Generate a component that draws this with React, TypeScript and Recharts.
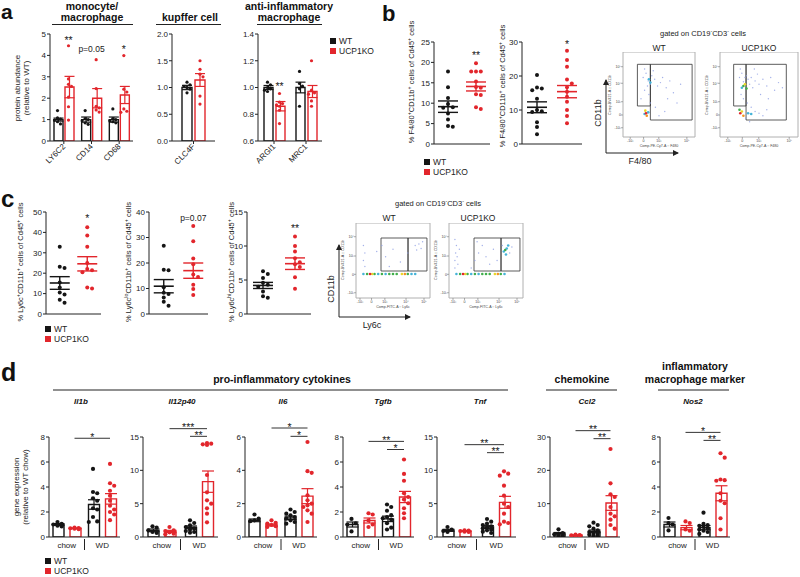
import React from 'react';
import { ComposedChart, Bar, ErrorBar, Scatter, XAxis, YAxis, ReferenceLine, ReferenceDot, ReferenceArea } from 'recharts';

const RED = '#e2262c';
const BLK = '#151515';
const AX = '#222';
const FONT = '"Liberation Sans", Arial, Helvetica, sans-serif';

// ---------- panel a ----------
const monoCats = ['LY6C2', 'CD14', 'CD68'];
const monoWtMean = [1.0, 1.0, 1.0];
const monoWtSem = [0.07, 0.12, 0.12];
const monoKoMean = [2.52, 2.0, 2.15];
const monoKoSem = [0.5, 0.45, 0.4];
const monoWtPts = [[1.42, 1.08, 1.02, 0.98, 0.9, 0.8], [1.42, 1.05, 1.0, 0.95, 0.85, 0.78], [1.5, 1.05, 1.0, 0.95, 0.9, 0.85]];
const monoKoPts = [[4.45, 2.9, 2.65, 2.55, 2.05, 1.6, 0.98], [3.8, 2.45, 1.62, 1.55, 1.45, 1.35], [3.99, 2.42, 2.29, 1.5, 1.39, 1.34]];
const monoTicks = [0, 1, 2, 3, 4, 5];

const kupCats = ['CLC4F'];
const kupWtMean = [1.0];
const kupWtSem = [0.04];
const kupKoMean = [1.14];
const kupKoSem = [0.12];
const kupWtPts = [[1.1, 1.05, 1.02, 1.0, 0.97, 0.9]];
const kupKoPts = [[1.5, 1.34, 1.25, 1.2, 0.84, 0.69]];
const kupTicks = [0, 0.5, 1.0, 1.5, 2.0];

const antiCats = ['ARGI1', 'MRC1'];
const antiWtMean = [1.0, 1.0];
const antiWtSem = [0.015, 0.04];
const antiKoMean = [0.86, 0.97];
const antiKoSem = [0.035, 0.045];
const antiWtPts = [[1.04, 1.02, 1.0, 0.99, 0.98, 0.97], [1.12, 1.03, 1.01, 0.99, 0.86]];
const antiKoPts = [[0.955, 0.89, 0.88, 0.87, 0.86, 0.83, 0.73], [1.2, 0.98, 0.96, 0.95, 0.9, 0.86]];
const antiTicks = [0.6, 0.8, 1.0, 1.2, 1.4];

// ---------- panel b ----------
const b1WtPts = [17.8, 13.9, 11.3, 9.8, 9.0, 8.9, 7.5, 6.0, 4.4, 4.2];
const b1KoPts = [19.8, 17.8, 17.8, 17.8, 15.3, 14.0, 13.8, 12.2, 12.0, 9.0, 8.6];
const b1Mean = [9.15, 14.1];
const b1Sem = [1.4, 1.1];
const b1Ticks = [0, 5, 10, 15, 20, 25];
const b2WtPts = [20.3, 16.6, 16.3, 15.8, 13.3, 10.0, 9.6, 9.4, 6.4, 5.0, 2.9];
const b2KoPts = [27.4, 24.7, 22.7, 19.0, 17.8, 16.7, 15.4, 13.9, 12.4, 10.0, 8.2, 6.1];
const b2Mean = [10.8, 15.4];
const b2Sem = [1.6, 1.8];
const b2Ticks = [0, 10, 20, 30];

// ---------- panel c ----------
const c1WtPts = [33, 23.2, 22.5, 15.5, 13, 10.5, 9.5, 7.0, 5.5];
const c1KoPts = [42.5, 38.5, 33.0, 25.0, 22.0, 21.5, 20.5, 13.0, 12.5];
const c1Mean = [15.2, 24.6];
const c1Sem = [3.1, 3.5];
const c1Ticks = [0, 10, 20, 30, 40, 50];
const c2WtPts = [26.8, 17.4, 17.2, 10.5, 8.3, 7.8, 6.5, 4.8, 3.2];
const c2KoPts = [34.5, 28.5, 21.8, 19.5, 15.5, 14.5, 11.5, 9.8, 7.5];
const c2Mean = [10.9, 17.0];
const c2Sem = [2.6, 3.0];
const c2Ticks = [0, 10, 20, 30, 40];
const c3WtPts = [6.3, 5.9, 5.3, 4.6, 4.3, 4.0, 3.3, 2.6, 2.4];
const c3KoPts = [11.4, 10.0, 9.2, 8.2, 7.6, 7.3, 6.9, 5.4, 3.7];
const c3Mean = [4.2, 7.4];
const c3Sem = [0.45, 0.85];
const c3Ticks = [0, 5, 10, 15];

// ---------- panel d ----------
const dCats = ['chow', 'WD'];
const il1bWtMean = [1.0, 2.6]; const il1bWtSem = [0.07, 0.38];
const il1bKoMean = [0.69, 3.05]; const il1bKoSem = [0.03, 0.42];
const il1bWtPts = [[1.2, 1.05, 1.0, 0.9, 0.85], [5.45, 3.6, 3.5, 3.1, 2.9, 2.3, 2.2, 1.6, 1.25, 1.2]];
const il1bKoPts = [[0.75, 0.72, 0.7, 0.66, 0.62], [5.85, 4.3, 4.1, 3.7, 3.3, 2.9, 2.5, 2.2, 2.0, 1.8, 1.35]];
const il1bTicks = [0, 2, 4, 6, 8];

const il12WtMean = [1.0, 1.45]; const il12WtSem = [0.2, 0.2];
const il12KoMean = [0.83, 8.3]; const il12KoSem = [0.17, 1.6];
const il12WtPts = [[1.6, 1.4, 1.0, 0.75, 0.6], [2.5, 2.1, 1.75, 1.5, 1.25, 1.1, 0.9, 0.75, 0.65]];
const il12KoPts = [[1.5, 1.0, 0.9, 0.7, 0.5, 0.4], [14.1, 14.0, 13.9, 13.8, 9.3, 6.7, 5.5, 5.0, 4.3, 3.5, 2.2]];
const il12Ticks = [0, 5, 10, 15];

const il6WtMean = [1.0, 1.15]; const il6WtSem = [0.08, 0.1];
const il6KoMean = [0.72, 2.45]; const il6KoSem = [0.06, 0.45];
const il6WtPts = [[1.35, 1.1, 1.0, 0.95], [1.65, 1.5, 1.4, 1.3, 1.2, 1.1, 1.0, 0.9, 0.8]];
const il6KoPts = [[1.0, 0.85, 0.8, 0.72, 0.65, 0.6], [5.7, 3.95, 3.85, 2.5, 2.2, 2.0, 1.9, 1.8, 1.6, 1.4, 0.9]];
const il6Ticks = [0, 2, 4, 6];

const tgfbWtMean = [1.0, 1.45]; const tgfbWtSem = [0.2, 0.22];
const tgfbKoMean = [1.32, 3.2]; const tgfbKoSem = [0.2, 0.45];
const tgfbWtPts = [[1.45, 1.1, 1.0, 0.45], [2.6, 2.4, 2.1, 1.75, 1.6, 1.5, 1.4, 1.1, 0.75, 0.6]];
const tgfbKoPts = [[1.9, 1.8, 1.33, 1.0, 0.8], [6.2, 5.05, 4.5, 3.5, 3.2, 3.0, 2.7, 2.3, 1.9, 1.5]];
const tgfbTicks = [0, 2, 4, 6, 8];

const tnfWtMean = [1.0, 1.5]; const tnfWtSem = [0.15, 0.2];
const tnfKoMean = [0.87, 5.2]; const tnfKoSem = [0.05, 0.9];
const tnfWtPts = [[1.5, 1.1, 0.9, 0.75], [2.7, 2.3, 2.0, 1.8, 1.6, 1.4, 1.3, 1.1, 1.0, 0.8, 0.6]];
const tnfKoPts = [[1.0, 0.95, 0.9, 0.8, 0.75], [9.85, 9.5, 9.2, 7.7, 6.2, 5.0, 4.5, 3.5, 2.3, 2.1, 1.9]];
const tnfTicks = [0, 5, 10, 15];

const ccl2WtMean = [1.0, 1.7]; const ccl2WtSem = [0.35, 0.4];
const ccl2KoMean = [0.53, 10.2]; const ccl2KoSem = [0.05, 2.2];
const ccl2WtPts = [[2.3, 1.2, 0.8, 0.5, 0.3], [4.3, 3.6, 3.2, 2.5, 2.0, 1.5, 1.2, 1.0, 0.7, 0.5, 0.3]];
const ccl2KoPts = [[0.7, 0.6, 0.5, 0.45, 0.4], [26.4, 16.1, 12.8, 12.0, 9.0, 7.0, 6.2, 5.2, 3.6, 2.5]];
const ccl2Ticks = [0, 10, 20, 30];

const nos2WtMean = [1.0, 0.75]; const nos2WtSem = [0.2, 0.17];
const nos2KoMean = [0.75, 3.5]; const nos2KoSem = [0.17, 0.6];
const nos2WtPts = [[1.52, 1.12, 1.0, 0.53], [1.95, 1.05, 0.95, 0.9, 0.8, 0.7, 0.6, 0.5, 0.4, 0.25]];
const nos2KoPts = [[1.25, 1.12, 0.6, 0.5], [6.7, 6.35, 4.6, 4.55, 4.5, 3.5, 2.9, 2.7, 1.5, 0.6]];
const nos2Ticks = [0, 2, 4, 6, 8];

// ---------- flow cytometry (display units 0..100) ----------
const flowCol: Record<string, string> = { b: '#8d9de3', c: '#45b3d8', g: '#3fae4a', y: '#e9d628', o: '#f39320', r: '#e2262c' };
const fbXTicks = [10, 28.6, 49.7, 88.7];
const fbXLabels = ['-10³', '0', '10³', '10⁵'];
const fbYTicks = [10.9, 25.9, 41.5, 63.2, 82.7];
const fbYLabels = ['-10³', '0', '10³', '10⁴', '10⁵'];
const fbWtGates = [[20, 38, 36.5, 85.5], [38, 96, 20, 85.5]];
const fbKoGates = [[17.5, 33.4, 36.5, 85.5], [33.4, 85, 20, 85.5]];
const fbWtPts: [number, number, string][] = [
  [28, 70, 'b'], [32, 75, 'b'], [35, 66, 'b'], [38, 62, 'b'], [40, 72, 'b'], [44, 68, 'b'], [48, 60, 'b'], [52, 64, 'b'],
  [30, 55, 'b'], [36, 50, 'b'], [42, 78, 'b'], [55, 70, 'b'], [60, 58, 'b'], [65, 66, 'b'], [70, 52, 'b'], [25, 45, 'b'],
  [38, 40, 'b'], [45, 35, 'b'], [58, 30, 'b'], [75, 40, 'b'], [50, 25, 'b'], [30, 80, 'b'], [34, 60, 'b'], [80, 62, 'b'],
  [62, 45, 'b'], [38, 64, 'c'], [36, 68, 'c'], [30, 27, 'c'], [35, 29, 'c'], [33, 25, 'o'], [31, 31, 'y'], [32, 28, 'r'],
];
const fbKoPts: [number, number, string][] = [
  [25, 70, 'b'], [28, 75, 'b'], [30, 65, 'b'], [32, 70, 'b'], [34, 72, 'b'], [36, 68, 'b'], [38, 62, 'b'], [40, 70, 'b'],
  [42, 58, 'b'], [45, 66, 'b'], [48, 74, 'b'], [50, 62, 'b'], [55, 68, 'b'], [60, 60, 'b'], [65, 70, 'b'], [70, 55, 'b'],
  [75, 64, 'b'], [27, 50, 'b'], [30, 45, 'b'], [35, 40, 'b'], [40, 35, 'b'], [45, 30, 'b'], [50, 28, 'b'], [55, 25, 'b'],
  [60, 32, 'b'], [33, 22, 'b'], [38, 18, 'b'], [26, 80, 'b'], [44, 80, 'b'], [52, 50, 'b'], [62, 45, 'b'], [80, 58, 'b'],
  [28, 58, 'c'], [36, 28, 'c'], [40, 27, 'c'], [34, 57, 'g'], [30, 60, 'g'], [25, 32, 'g'], [32, 62, 'y'], [28, 30, 'y'],
  [30, 25, 'o'], [26, 28, 'r'],
];
const fcXTicks = [5.4, 21, 39, 67.6, 91.9];
const fcXLabels = ['-10³', '0', '10³', '10⁴', '10⁵'];
const fcYTicks = [7, 31.6, 56, 81.7];
const fcYLabels = ['-10³', '0', '10³', '10⁴'];
const fcGates = [[33.8, 70.3, 36, 80], [70.3, 95.9, 36, 80]];
const fcWtPts: [number, number, string][] = [
  [10, 50, 'b'], [12, 60, 'b'], [10, 70, 'b'], [40, 55, 'b'], [50, 65, 'b'], [60, 48, 'b'], [70, 60, 'b'], [80, 70, 'b'],
  [85, 72, 'b'], [88, 66, 'b'], [82, 64, 'b'], [90, 75, 'b'], [12, 42, 'b'], [45, 42, 'b'], [35, 70, 'b'], [28, 62, 'b'],
  [10, 32, 'c'], [15, 32, 'g'], [25, 32, 'g'], [30, 32, 'c'], [35, 32, 'g'], [40, 32, 'c'], [45, 32, 'g'], [50, 32, 'g'],
  [55, 32, 'g'], [70, 32, 'g'], [75, 32, 'c'], [80, 32, 'c'], [22, 32, 'y'], [62, 32, 'y'], [66, 32, 'o'], [19, 32, 'r'],
];
const fcKoPts: [number, number, string][] = [
  [8, 40, 'b'], [8, 50, 'b'], [9, 60, 'b'], [10, 70, 'b'], [8, 78, 'b'], [12, 45, 'b'], [11, 55, 'b'], [14, 65, 'b'],
  [35, 50, 'b'], [40, 60, 'b'], [45, 70, 'b'], [50, 55, 'b'], [55, 45, 'b'], [60, 65, 'b'], [65, 50, 'b'], [30, 40, 'b'],
  [38, 75, 'b'], [82, 60, 'b'], [72, 70, 'b'], [85, 68, 'b'], [78, 66, 'c'], [74, 62, 'c'], [80, 70, 'c'], [77, 58, 'c'],
  [76, 64, 'g'], [10, 32, 'c'], [15, 32, 'g'], [25, 32, 'g'], [30, 32, 'c'], [35, 32, 'g'], [40, 32, 'c'], [45, 32, 'g'],
  [50, 32, 'g'], [55, 32, 'g'], [70, 32, 'g'], [75, 32, 'c'], [22, 32, 'y'], [62, 32, 'y'], [66, 32, 'o'], [19, 32, 'r'],
];

// ---------- helpers ----------
function swarm(vals: number[], yToPx: (v: number) => number, d: number, step: number, maxOff: number): number[] {
  const order = vals.map((_, i) => i).sort((a, b) => vals[b] - vals[a]);
  const placed: { x: number; y: number }[] = [];
  const offs = vals.map(() => 0);
  for (const i of order) {
    const py = yToPx(vals[i]);
    let best = 0;
    let bestScore = -1;
    for (let k = 0; k < 40; k++) {
      const m = Math.ceil(k / 2);
      const cand = k === 0 ? 0 : (k % 2 === 1 ? m : -m) * step;
      if (Math.abs(cand) > maxOff + 0.01) continue;
      const score = placed.length ? Math.min(...placed.map(p => Math.hypot(p.x - cand, p.y - py))) : 1e9;
      if (score >= d) { best = cand; bestScore = score; break; }
      if (score > bestScore) { bestScore = score; best = cand; }
    }
    offs[i] = best;
    placed.push({ x: best, y: py });
  }
  return offs;
}

const dotShape = (fill: string, r: number) => (p: any) => <circle cx={p.cx} cy={p.cy} r={r} fill={fill} />;
const meanShape = (stroke: string, w: number) => (p: any) => (
  <line x1={p.cx - w / 2} x2={p.cx + w / 2} y1={p.cy} y2={p.cy} stroke={stroke} strokeWidth={1.6} />
);
const textLabel = (text: string, fs: number, dy: number) => (p: any) => {
  const vb = p.viewBox || {};
  const cx = (vb.x || 0) + (vb.width || 0) / 2;
  const cy = (vb.y || 0) + (vb.height || 0) / 2;
  return (
    <text x={cx} y={cy + dy} textAnchor="middle" fontSize={fs} stroke="none" style={{ fill: '#1a1a1a' }} fontFamily={FONT}>{text}</text>
  );
};

type Ser = 'wt' | 'ko' | 'mid';
interface Star { cat: number; ser: Ser; y: number; text: string; fs?: number }
interface Sig { a: [number, Ser]; b: [number, Ser]; y: number; text: string }

interface BarPlotProps {
  x: number; y: number; w: number; h: number;
  cats: string[];
  wt: number[]; wtErr: number[]; ko: number[]; koErr: number[];
  wtPts: number[][]; koPts: number[][];
  domain: [number, number]; ticks: number[];
  barSize: number; barGap: number; dotR: number; step: number; cap: number;
  kind: 'rot' | 'split';
  stars?: Star[]; sigs?: Sig[];
  fmt?: (v: number) => string;
}

function BarPlot(p: BarPlotProps) {
  const YW = 30, MT = 24, MR = 4;
  const xh = p.kind === 'rot' ? 40 : 16;
  const n = p.cats.length;
  const band = p.w / n;
  const off = Math.floor((band - (2 * p.barSize + p.barGap)) / 2);
  const cPx: Record<Ser, number> = {
    wt: off + p.barSize / 2,
    ko: off + p.barSize + p.barGap + p.barSize / 2,
    mid: band / 2,
  };
  const xu = (cat: number, ser: Ser, px = 0) => cat + (cPx[ser] + px) / band;
  const yToPx = (v: number) => p.h * (1 - (v - p.domain[0]) / (p.domain[1] - p.domain[0]));
  const build = (ser: Ser, arrs: number[][]) =>
    arrs.flatMap((vals, i) => {
      const offs = swarm(vals, yToPx, p.dotR * 2 + 0.3, p.step, p.barSize / 2);
      return vals.map((v, j) => ({ x: xu(i, ser, offs[j]), y: v }));
    });
  const wtData = build('wt', p.wtPts);
  const koData = build('ko', p.koPts);
  const data = p.cats.map((c, i) => ({ name: c, wt: p.wt[i], wtErr: p.wtErr[i], ko: p.ko[i], koErr: p.koErr[i] }));

  const rotTick = (t: any) => (
    <text x={t.x + 2} y={t.y + 3} transform={`rotate(-45 ${t.x + 2} ${t.y + 3})`} textAnchor="end" fontSize={8} fill="#222">
      {t.payload.value}
    </text>
  );
  const splitTick = (t: any) => (
    <g>
      <text x={t.x} y={t.y + 11} textAnchor="middle" fontSize={8} fill="#222">{t.payload.value}</text>
      {t.index === 0 && <line x1={t.x + band / 2} x2={t.x + band / 2} y1={t.y + 2} y2={t.y + 13} stroke={AX} strokeWidth={1} />}
    </g>
  );

  return (
    <div style={{ position: 'absolute', left: p.x - YW, top: p.y - MT }}>
      <ComposedChart width={YW + p.w + MR} height={MT + p.h + xh} data={data} margin={{ top: MT, right: MR, bottom: 0, left: 0 }} barGap={p.barGap}>
        <XAxis
          xAxisId="cat" dataKey="name" type="category" height={xh} interval={0}
          axisLine={{ stroke: AX, strokeWidth: 1 }}
          tickLine={p.kind === 'rot' ? { stroke: AX, strokeWidth: 1 } : false}
          tickSize={p.kind === 'rot' ? 3 : 0} tickMargin={0}
          tick={p.kind === 'rot' ? rotTick : splitTick}
        />
        <XAxis xAxisId="num" dataKey="x" type="number" domain={[0, n]} hide allowDataOverflow />
        <YAxis
          type="number" domain={p.domain} ticks={p.ticks} width={YW} interval={0} allowDataOverflow
          axisLine={{ stroke: AX, strokeWidth: 1 }} tickLine={{ stroke: AX, strokeWidth: 1 }} tickSize={3} tickMargin={1}
          tick={{ fontSize: 8, fill: '#222' }} tickFormatter={p.fmt}
        />
        <Bar xAxisId="cat" dataKey="wt" barSize={p.barSize} fill="#fff" stroke={BLK} strokeWidth={1.4} isAnimationActive={false}>
          <ErrorBar dataKey="wtErr" width={p.cap} stroke={BLK} strokeWidth={1.2} />
        </Bar>
        <Bar xAxisId="cat" dataKey="ko" barSize={p.barSize} fill="#fff" stroke={RED} strokeWidth={1.4} isAnimationActive={false}>
          <ErrorBar dataKey="koErr" width={p.cap} stroke={RED} strokeWidth={1.2} />
        </Bar>
        <Scatter xAxisId="num" data={wtData} dataKey="y" shape={dotShape(BLK, p.dotR)} isAnimationActive={false} />
        <Scatter xAxisId="num" data={koData} dataKey="y" shape={dotShape(RED, p.dotR)} isAnimationActive={false} />
        {(p.sigs || []).map((s, i) => (
          <ReferenceLine
            key={'l' + i} xAxisId="num" ifOverflow="visible" stroke="#333" strokeWidth={1}
            segment={[{ x: xu(s.a[0], s.a[1]), y: s.y }, { x: xu(s.b[0], s.b[1]), y: s.y }]}
          />
        ))}
        {(p.sigs || []).map((s, i) => (
          <ReferenceDot
            key={'s' + i} xAxisId="num" ifOverflow="visible" r={0} fill="none" stroke="none"
            x={(xu(s.a[0], s.a[1]) + xu(s.b[0], s.b[1])) / 2} y={s.y}
            label={textLabel(s.text, 10.5, 2.5)}
          />
        ))}
        {(p.stars || []).map((s, i) => (
          <ReferenceDot
            key={'t' + i} xAxisId="num" ifOverflow="visible" r={0} fill="none" stroke="none"
            x={xu(s.cat, s.ser)} y={s.y}
            label={textLabel(s.text, s.fs || 10.5, (s.fs || 10.5) * (s.text.startsWith('p') ? 0.35 : 0.55))}
          />
        ))}
      </ComposedChart>
    </div>
  );
}

interface DotPlotProps {
  x: number; y: number; w: number; h: number;
  wtPts: number[]; koPts: number[]; mean: number[]; sem: number[];
  domain: [number, number]; ticks: number[];
  star: string; starY: number;
}

function DotPlot(p: DotPlotProps) {
  const YW = 30, MT = 14, MR = 4, MB = 8;
  const half = p.w / 2;
  const yToPx = (v: number) => p.h * (1 - (v - p.domain[0]) / (p.domain[1] - p.domain[0]));
  const build = (vals: number[], i: number) => {
    const offs = swarm(vals, yToPx, 4.2, 4.8, 13);
    return vals.map((v, j) => ({ x: i + 0.5 + offs[j] / half, y: v }));
  };
  const wtData = build(p.wtPts, 0);
  const koData = build(p.koPts, 1);
  const wtMean = [{ x: 0.5, y: p.mean[0], err: p.sem[0] }];
  const koMean = [{ x: 1.5, y: p.mean[1], err: p.sem[1] }];
  const isP = p.star.startsWith('p');
  return (
    <div style={{ position: 'absolute', left: p.x - YW, top: p.y - MT }}>
      <ComposedChart width={YW + p.w + MR} height={MT + p.h + 2 + MB} margin={{ top: MT, right: MR, bottom: MB, left: 0 }}>
        <XAxis dataKey="x" type="number" domain={[0, 2]} height={2} tick={false} tickLine={false} axisLine={{ stroke: AX, strokeWidth: 1 }} allowDataOverflow />
        <YAxis
          type="number" domain={p.domain} ticks={p.ticks} width={YW} interval={0} allowDataOverflow
          axisLine={{ stroke: AX, strokeWidth: 1 }} tickLine={{ stroke: AX, strokeWidth: 1 }} tickSize={3} tickMargin={1}
          tick={{ fontSize: 8, fill: '#222' }}
        />
        <Scatter data={wtData} dataKey="y" shape={dotShape(BLK, 2.0)} isAnimationActive={false} />
        <Scatter data={koData} dataKey="y" shape={dotShape(RED, 2.0)} isAnimationActive={false} />
        <Scatter data={wtMean} dataKey="y" shape={meanShape(BLK, 20)} isAnimationActive={false}>
          <ErrorBar dataKey="err" direction="y" width={10} stroke={BLK} strokeWidth={1.4} />
        </Scatter>
        <Scatter data={koMean} dataKey="y" shape={meanShape(RED, 20)} isAnimationActive={false}>
          <ErrorBar dataKey="err" direction="y" width={10} stroke={RED} strokeWidth={1.4} />
        </Scatter>
        <ReferenceDot
          x={1.5} y={p.starY} r={0} fill="none" stroke="none" ifOverflow="visible"
          label={textLabel(p.star, isP ? 8.5 : 10.5, isP ? 3 : 5.8)}
        />
      </ComposedChart>
    </div>
  );
}

interface FlowProps {
  x: number; y: number; w: number; h: number;
  gates: number[][]; pts: [number, number, string][];
  xt: number[]; xl: string[]; yt: number[]; yl: string[];
}

function FlowPlot(p: FlowProps) {
  const YW = 10, XH = 9;
  const data = p.pts.map(([x, y, c]) => ({ x, y, c }));
  const fd = (q: any) => {
    const c = q.payload?.c || 'b';
    return <circle cx={q.cx} cy={q.cy} r={c === 'b' ? 0.7 : 1.3} fill={flowCol[c]} opacity={c === 'b' ? 0.8 : 1} />;
  };
  return (
    <div style={{ position: 'absolute', left: p.x - YW, top: p.y }}>
      <ComposedChart width={YW + p.w + 1} height={p.h + XH} margin={{ top: 0, right: 1, bottom: 0, left: 0 }}>
        <XAxis
          dataKey="x" type="number" domain={[0, 100]} ticks={p.xt} interval={0} height={XH} allowDataOverflow
          tickFormatter={(_v: any, i: number) => p.xl[i]} axisLine={false} tickLine={{ stroke: '#777', strokeWidth: 0.6 }}
          tickSize={2} tickMargin={0} tick={{ fontSize: 3.6, fill: '#444' }}
        />
        <YAxis
          type="number" domain={[0, 100]} ticks={p.yt} interval={0} width={YW} allowDataOverflow
          tickFormatter={(_v: any, i: number) => p.yl[i]} axisLine={false} tickLine={{ stroke: '#777', strokeWidth: 0.6 }}
          tickSize={2} tickMargin={0} tick={{ fontSize: 3.6, fill: '#444' }}
        />
        <ReferenceArea x1={0} x2={100} y1={0} y2={100} fill="#fff" fillOpacity={0} stroke="#b0b0b0" strokeWidth={1} ifOverflow="visible" />
        <Scatter data={data} dataKey="y" shape={fd} isAnimationActive={false} />
        {p.gates.map((g, i) => (
          <ReferenceArea key={i} x1={g[0]} x2={g[1]} y1={g[2]} y2={g[3]} fill="#fff" fillOpacity={0} stroke="#333" strokeWidth={0.8} ifOverflow="visible" />
        ))}
      </ComposedChart>
    </div>
  );
}

function Rich({ s, fs }: { s: string; fs: number }) {
  const parts = s.split(/(\{[^}]*\})/).filter(Boolean);
  return (
    <>
      {parts.map((q, i) =>
        q.startsWith('{') ? (
          <tspan key={i} fontSize={fs * 0.7} baselineShift="super">{q.slice(1, -1)}</tspan>
        ) : (
          <tspan key={i}>{q}</tspan>
        )
      )}
    </>
  );
}

const VText = ({ x, cy, s, fs = 7.5 }: { x: number; cy: number; s: string; fs?: number }) => (
  <text x={x} y={cy} transform={`rotate(-90 ${x} ${cy})`} textAnchor="middle" fontSize={fs} fill="#222">
    <Rich s={s} fs={fs} />
  </text>
);

const Legend = ({ x, y }: { x: number; y: number }) => (
  <g>
    <rect x={x} y={y} width={6} height={6} fill={BLK} />
    <text x={x + 9} y={y + 6} fontSize={8.5} fill="#222">WT</text>
    <rect x={x} y={y + 10} width={6} height={6} fill={RED} />
    <text x={x + 9} y={y + 16} fontSize={8.5} fill="#222">UCP1KO</text>
  </g>
);

const Title = ({ x, y, s, fs = 10.5 }: { x: number; y: number; s: string; fs?: number }) => (
  <text x={x} y={y} textAnchor="middle" fontSize={fs} fontWeight="bold" fill="#111">{s}</text>
);
const ULine = ({ x1, x2, y }: { x1: number; x2: number; y: number }) => (
  <line x1={x1} x2={x2} y1={y} y2={y} stroke="#222" strokeWidth={1.2} />
);
const Gene = ({ x, s }: { x: number; s: string }) => (
  <text x={x} y={404} textAnchor="middle" fontSize={8} fontWeight="bold" fontStyle="italic" fill="#111">{s}</text>
);

const fmt1 = (v: number) => v.toFixed(1);

export default function App() {
  const dCommon = { h: 100, y: 437, cats: dCats, barSize: 11, barGap: 6, dotR: 2.1, step: 4.2, cap: 6, kind: 'split' as const };
  const aCommon = { y: 34, h: 107, barSize: 9, barGap: 2, dotR: 1.6, step: 3, cap: 5, kind: 'rot' as const };
  return (
    <div style={{ position: 'absolute', left: 0, top: 0, width: 800, height: 577, background: '#fff', fontFamily: FONT, overflow: 'hidden' }}>
      {/* panel a */}
      <BarPlot {...aCommon} x={50} w={83} cats={monoCats} wt={monoWtMean} wtErr={monoWtSem} ko={monoKoMean} koErr={monoKoSem}
        wtPts={monoWtPts} koPts={monoKoPts} domain={[0, 5]} ticks={monoTicks}
        stars={[{ cat: 0, ser: 'ko', y: 4.82, text: '**' }, { cat: 1, ser: 'mid', y: 4.31, text: 'p=0.05', fs: 8.5 }, { cat: 2, ser: 'ko', y: 4.37, text: '*' }]} />
      <BarPlot {...aCommon} x={172} w={43} barSize={10} barGap={3} cats={kupCats} wt={kupWtMean} wtErr={kupWtSem} ko={kupKoMean} koErr={kupKoSem}
        wtPts={kupWtPts} koPts={kupKoPts} domain={[0, 2]} ticks={kupTicks} fmt={fmt1} />
      <BarPlot {...aCommon} x={258} w={64} barGap={3} cats={antiCats} wt={antiWtMean} wtErr={antiWtSem} ko={antiKoMean} koErr={antiKoSem}
        wtPts={antiWtPts} koPts={antiKoPts} domain={[0.6, 1.4]} ticks={antiTicks} fmt={fmt1}
        stars={[{ cat: 0, ser: 'ko', y: 1.025, text: '**' }]} />

      {/* panel b */}
      <DotPlot x={434} y={42} w={56} h={102} wtPts={b1WtPts} koPts={b1KoPts} mean={b1Mean} sem={b1Sem} domain={[0, 25]} ticks={b1Ticks} star="**" starY={22.2} />
      <DotPlot x={522} y={42} w={60} h={102} wtPts={b2WtPts} koPts={b2KoPts} mean={b2Mean} sem={b2Sem} domain={[0, 30]} ticks={b2Ticks} star="*" starY={29.8} />
      <FlowPlot x={623} y={52} w={72} h={85} gates={fbWtGates} pts={fbWtPts} xt={fbXTicks} xl={fbXLabels} yt={fbYTicks} yl={fbYLabels} />
      <FlowPlot x={720} y={52} w={78} h={85} gates={fbKoGates} pts={fbKoPts} xt={fbXTicks} xl={fbXLabels} yt={fbYTicks} yl={fbYLabels} />

      {/* panel c */}
      <DotPlot x={46} y={212} w={55} h={102} wtPts={c1WtPts} koPts={c1KoPts} mean={c1Mean} sem={c1Sem} domain={[0, 50]} ticks={c1Ticks} star="*" starY={47.8} />
      <DotPlot x={149} y={212} w={59} h={102} wtPts={c2WtPts} koPts={c2KoPts} mean={c2Mean} sem={c2Sem} domain={[0, 40]} ticks={c2Ticks} star="p=0.07" starY={37.6} />
      <DotPlot x={247} y={212} w={64} h={102} wtPts={c3WtPts} koPts={c3KoPts} mean={c3Mean} sem={c3Sem} domain={[0, 15]} ticks={c3Ticks} star="**" starY={12.9} />
      <FlowPlot x={356} y={223} w={74} h={75} gates={fcGates} pts={fcWtPts} xt={fcXTicks} xl={fcXLabels} yt={fcYTicks} yl={fcYLabels} />
      <FlowPlot x={449} y={223} w={74} h={75} gates={fcGates} pts={fcKoPts} xt={fcXTicks} xl={fcXLabels} yt={fcYTicks} yl={fcYLabels} />

      {/* panel d */}
      <BarPlot {...dCommon} x={49} w={71} wt={il1bWtMean} wtErr={il1bWtSem} ko={il1bKoMean} koErr={il1bKoSem} wtPts={il1bWtPts} koPts={il1bKoPts}
        domain={[0, 8]} ticks={il1bTicks} sigs={[{ a: [0, 'ko'], b: [1, 'ko'], y: 7.9, text: '*' }]} />
      <BarPlot {...dCommon} x={143} w={75} wt={il12WtMean} wtErr={il12WtSem} ko={il12KoMean} koErr={il12KoSem} wtPts={il12WtPts} koPts={il12KoPts}
        domain={[0, 15]} ticks={il12Ticks} sigs={[{ a: [0, 'ko'], b: [1, 'ko'], y: 16.25, text: '***' }, { a: [1, 'wt'], b: [1, 'ko'], y: 15.1, text: '**' }]} />
      <BarPlot {...dCommon} x={245} w={72} wt={il6WtMean} wtErr={il6WtSem} ko={il6KoMean} koErr={il6KoSem} wtPts={il6WtPts} koPts={il6KoPts}
        domain={[0, 6]} ticks={il6Ticks} sigs={[{ a: [0, 'ko'], b: [1, 'ko'], y: 6.54, text: '*' }, { a: [1, 'wt'], b: [1, 'ko'], y: 6.04, text: '*' }]} />
      <BarPlot {...dCommon} x={343} w={71} wt={tgfbWtMean} wtErr={tgfbWtSem} ko={tgfbKoMean} koErr={tgfbKoSem} wtPts={tgfbWtPts} koPts={tgfbKoPts}
        domain={[0, 8]} ticks={tgfbTicks} sigs={[{ a: [0, 'ko'], b: [1, 'ko'], y: 7.65, text: '**' }, { a: [1, 'wt'], b: [1, 'ko'], y: 7.0, text: '*' }]} />
      <BarPlot {...dCommon} x={437} w={79} wt={tnfWtMean} wtErr={tnfWtSem} ko={tnfKoMean} koErr={tnfKoSem} wtPts={tnfWtPts} koPts={tnfKoPts}
        domain={[0, 15]} ticks={tnfTicks} sigs={[{ a: [0, 'ko'], b: [1, 'ko'], y: 13.85, text: '**' }, { a: [1, 'wt'], b: [1, 'ko'], y: 12.65, text: '**' }]} />
      <BarPlot {...dCommon} x={550} w={70} wt={ccl2WtMean} wtErr={ccl2WtSem} ko={ccl2KoMean} koErr={ccl2KoSem} wtPts={ccl2WtPts} koPts={ccl2KoPts}
        domain={[0, 30]} ticks={ccl2Ticks} sigs={[{ a: [0, 'ko'], b: [1, 'ko'], y: 31.9, text: '**' }, { a: [1, 'wt'], b: [1, 'ko'], y: 29.5, text: '**' }]} />
      <BarPlot {...dCommon} x={660} w={70} wt={nos2WtMean} wtErr={nos2WtSem} ko={nos2KoMean} koErr={nos2KoSem} wtPts={nos2WtPts} koPts={nos2KoPts}
        domain={[0, 8]} ticks={nos2Ticks} sigs={[{ a: [0, 'ko'], b: [1, 'ko'], y: 8.37, text: '*' }, { a: [1, 'wt'], b: [1, 'ko'], y: 7.73, text: '**' }]} />

      {/* static text overlay */}
      <svg width={800} height={577} style={{ position: 'absolute', left: 0, top: 0, pointerEvents: 'none', fontFamily: FONT }}>
        <defs>
          <marker id="ah" markerWidth="6" markerHeight="6" refX="5" refY="3" orient="auto" markerUnits="userSpaceOnUse">
            <path d="M0,0 L6,3 L0,6 z" fill="#222" />
          </marker>
        </defs>
        {/* panel letters */}
        <text x={1} y={19} fontSize={21} fontWeight="bold" fill="#111">a</text>
        <text x={382} y={21} fontSize={22} fontWeight="bold" fill="#111">b</text>
        <text x={1} y={207} fontSize={24} fontWeight="bold" fill="#111">c</text>
        <text x={1} y={381} fontSize={25} fontWeight="bold" fill="#111">d</text>

        {/* panel a headers */}
        <Title x={92} y={10} s="monocyte/" />
        <Title x={92} y={21} s="macrophage" />
        <ULine x1={52} x2={133} y={24.5} />
        <Title x={190} y={21} s="kupffer cell" />
        <ULine x1={156} x2={221} y={24.5} />
        <Title x={289} y={10} s="anti-inflammatory" />
        <Title x={289} y={21} s="macrophage" />
        <ULine x1={257} x2={322} y={24.5} />
        <text x={20} y={88} transform="rotate(-90 20 88)" textAnchor="middle" fontSize={8} fill="#222">protein abundance</text>
        <text x={29} y={88} transform="rotate(-90 29 88)" textAnchor="middle" fontSize={8} fill="#222">(relative to WT)</text>
        <Legend x={330} y={38} />

        {/* panel b */}
        <VText x={414} cy={82} s="% F4/80{+}CD11b{+} cells of Cd45{+} cells" />
        <VText x={505} cy={86} s="% F4/80{+}CD11b{+} cells of Cd45{+} cells" />
        <Legend x={424} y={159} />
        <text x={703} y={36} textAnchor="middle" fontSize={7.5} fill="#222"><Rich s="gated on CD19{-}CD3{-} cells" fs={7.5} /></text>
        <text x={659} y={51} textAnchor="middle" fontSize={8.5} fill="#222">WT</text>
        <text x={759} y={51} textAnchor="middle" fontSize={8.5} fill="#222">UCP1KO</text>
        <text x={659} y={147} textAnchor="middle" fontSize={3.6} fill="#444">Comp-PE-Cy7-A :: F480</text>
        <text x={759} y={147} textAnchor="middle" fontSize={3.6} fill="#444">Comp-PE-Cy7-A :: F480</text>
        <text x={611} y={95} transform="rotate(-90 611 95)" textAnchor="middle" fontSize={3.6} fill="#444">Comp-BV421-A :: CD11b</text>
        <text x={708} y={95} transform="rotate(-90 708 95)" textAnchor="middle" fontSize={3.6} fill="#444">Comp-BV421-A :: CD11b</text>
        <line x1={606} y1={153} x2={606} y2={80} stroke="#222" strokeWidth={1} markerEnd="url(#ah)" />
        <line x1={606} y1={153} x2={678} y2={153} stroke="#222" strokeWidth={1} markerEnd="url(#ah)" />
        <text x={601} y={113} transform="rotate(-90 601 113)" textAnchor="middle" fontSize={9} fill="#222">CD11b</text>
        <text x={640} y={164} textAnchor="middle" fontSize={9} fill="#222">F4/80</text>

        {/* panel c */}
        <VText x={23} cy={262} s="% Ly6c{+}CD11b{+} cells of Cd45{+} cells" />
        <VText x={131} cy={262} s="% Ly6c{lo}CD11b{+} cells of Cd45{+} cells" />
        <VText x={234} cy={262} s="% Ly6c{hi}CD11b{+} cells of Cd45{+} cells" />
        <Legend x={45} y={326} />
        <text x={438} y={206} textAnchor="middle" fontSize={7.5} fill="#222"><Rich s="gated on CD19{-}CD3{-} cells" fs={7.5} /></text>
        <text x={389} y={221} textAnchor="middle" fontSize={8.5} fill="#222">WT</text>
        <text x={478} y={221} textAnchor="middle" fontSize={8.5} fill="#222">UCP1KO</text>
        <text x={393} y={308} textAnchor="middle" fontSize={3.6} fill="#444">Comp-FITC-A :: Ly6c</text>
        <text x={486} y={308} textAnchor="middle" fontSize={3.6} fill="#444">Comp-FITC-A :: Ly6c</text>
        <text x={344} y={260} transform="rotate(-90 344 260)" textAnchor="middle" fontSize={3.6} fill="#444">Comp-BV421-A :: CD11b</text>
        <text x={437} y={260} transform="rotate(-90 437 260)" textAnchor="middle" fontSize={3.6} fill="#444">Comp-BV421-A :: CD11b</text>
        <line x1={339} y1={317} x2={339} y2={245} stroke="#222" strokeWidth={1} markerEnd="url(#ah)" />
        <line x1={339} y1={317} x2={410} y2={317} stroke="#222" strokeWidth={1} markerEnd="url(#ah)" />
        <text x={334} y={289} transform="rotate(-90 334 289)" textAnchor="middle" fontSize={9} fill="#222">CD11b</text>
        <text x={372} y={328} textAnchor="middle" fontSize={9} fill="#222">Ly6c</text>

        {/* panel d */}
        <Title x={282} y={383} s="pro-inflammatory cytokines" />
        <ULine x1={53} x2={508} y={390} />
        <Title x={582} y={383} s="chemokine" />
        <ULine x1={546} x2={617} y={390} />
        <Title x={695} y={370} s="inflammatory" />
        <Title x={695} y={383} s="macrophage marker" />
        <ULine x1={658} x2={729} y={390} />
        <Gene x={81} s="Il1b" />
        <Gene x={182} s="Il12p40" />
        <Gene x={283} s="Il6" />
        <Gene x={383} s="Tgfb" />
        <Gene x={480} s="Tnf" />
        <Gene x={587} s="Ccl2" />
        <Gene x={693} s="Nos2" />
        <text x={19} y={487} transform="rotate(-90 19 487)" textAnchor="middle" fontSize={8} fill="#222">gene expression</text>
        <text x={28} y={487} transform="rotate(-90 28 487)" textAnchor="middle" fontSize={8} fill="#222">(relative to WT chow)</text>
        <Legend x={45} y={558} />
      </svg>
    </div>
  );
}
